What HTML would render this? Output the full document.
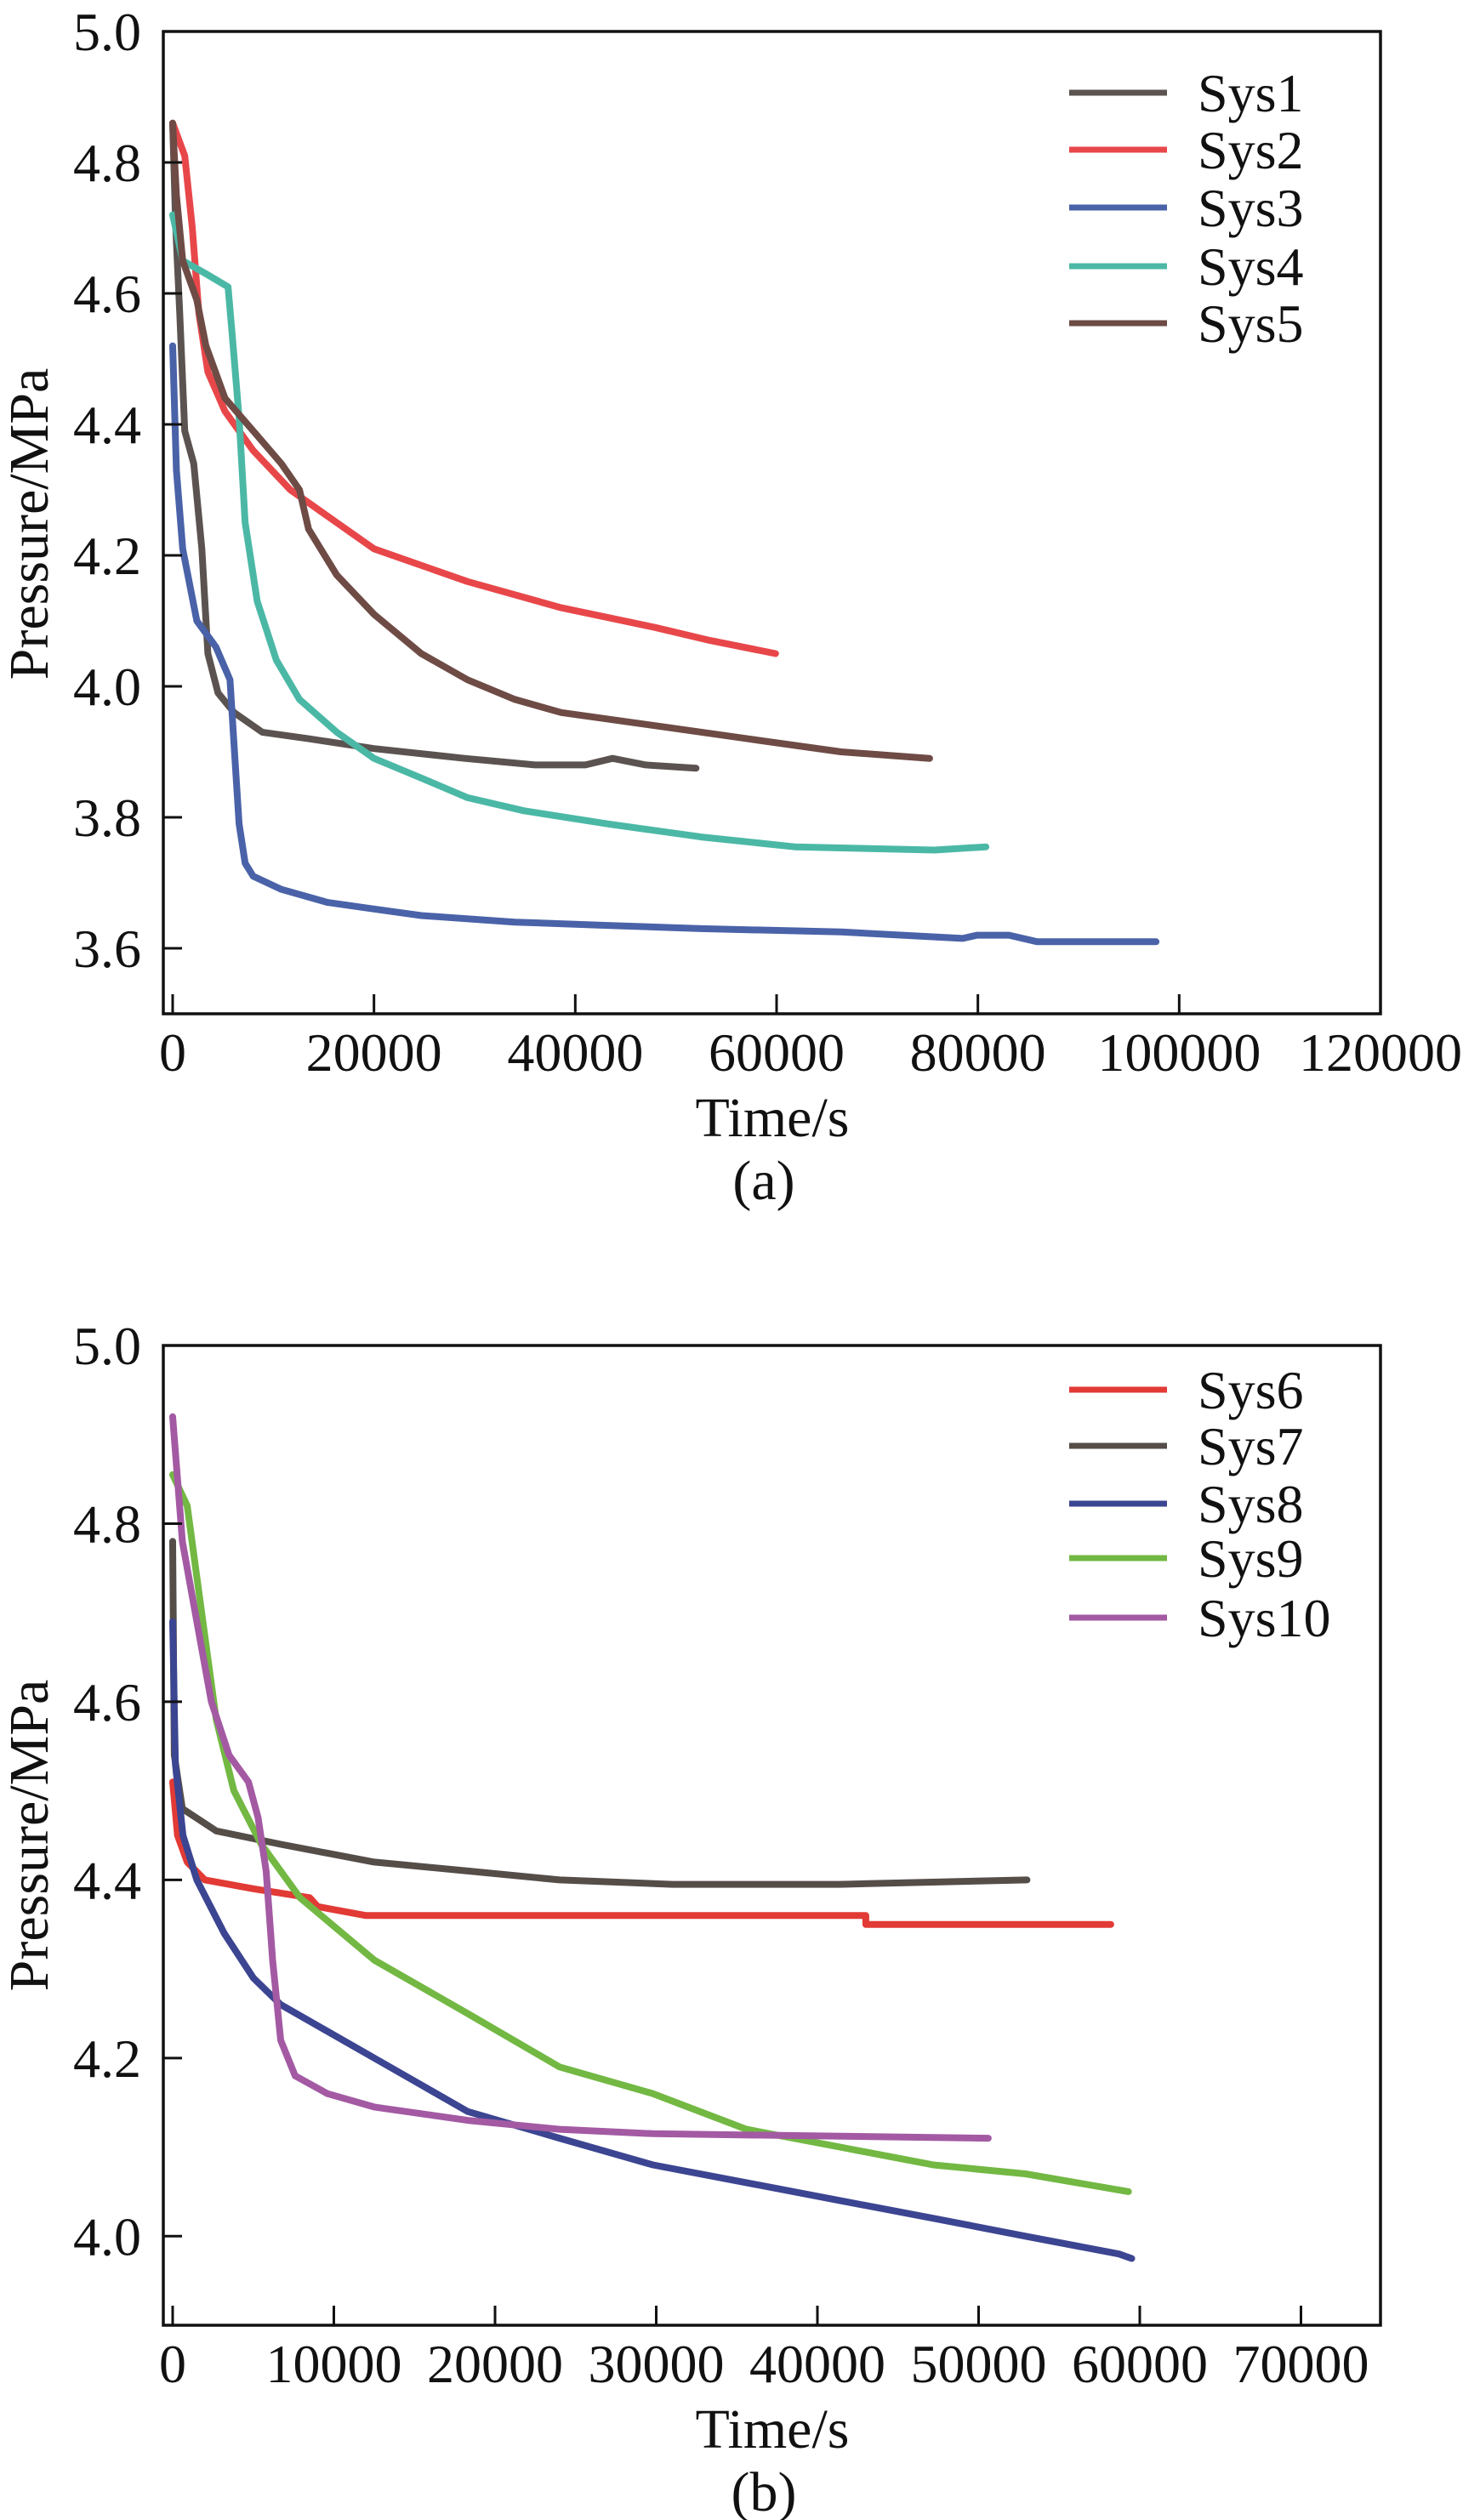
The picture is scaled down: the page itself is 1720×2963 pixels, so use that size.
<!DOCTYPE html>
<html><head><meta charset="utf-8"><style>
html,body{margin:0;padding:0;background:#fff;}
svg{display:block;font-family:"Liberation Serif","Times New Roman",serif;}
</style></head>
<body>
<svg id="fig" width="1720" height="2963" viewBox="0 0 1720 2963" xmlns="http://www.w3.org/2000/svg"></svg>
<script>
// ---------- Chart (a) data ----------
const aXTicks = [0, 20000, 40000, 60000, 80000, 100000, 120000];
const aYTicks = [3.6, 3.8, 4.0, 4.2, 4.4, 4.6, 4.8, 5.0];
const aNames = ["Sys1", "Sys2", "Sys3", "Sys4", "Sys5"];
const sys1T = [0,300,700,1200,2100,2900,3500,4500,6100,8900,13500,20000,29000,36000,41000,43700,47000,52000];
const sys1P = [4.86,4.70,4.57,4.39,4.34,4.21,4.05,3.99,3.96,3.93,3.92,3.905,3.89,3.88,3.88,3.89,3.88,3.875];
const sys2T = [0,1200,1950,2600,3500,5200,8000,11700,16300,20000,29300,38600,47900,53400,59900];
const sys2P = [4.86,4.81,4.70,4.57,4.48,4.42,4.36,4.30,4.25,4.21,4.16,4.12,4.09,4.07,4.05];
const sys3T = [0,370,1000,2400,4300,5700,6100,6600,7200,8000,10800,15400,20000,24700,34000,43200,52500,66400,78500,79900,83100,85900,97700];
const sys3P = [4.52,4.33,4.21,4.10,4.06,4.01,3.91,3.79,3.73,3.71,3.69,3.67,3.66,3.65,3.64,3.635,3.63,3.625,3.615,3.62,3.62,3.61,3.61];
const sys4T = [0,1000,3300,5500,5900,6600,7200,8400,10300,12600,16300,20000,24700,29300,34900,43200,52500,61800,75700,80800];
const sys4P = [4.72,4.65,4.63,4.61,4.54,4.41,4.25,4.13,4.04,3.98,3.93,3.89,3.86,3.83,3.81,3.79,3.77,3.755,3.75,3.755];
const sys5T = [0,370,1000,2400,3300,5200,8000,10800,12600,13500,16300,20000,24700,29300,34000,38600,47900,57100,66400,75200];
const sys5P = [4.86,4.75,4.65,4.59,4.52,4.44,4.39,4.34,4.30,4.24,4.17,4.11,4.05,4.01,3.98,3.96,3.94,3.92,3.90,3.89];

// ---------- Chart (b) data ----------
const bXTicks = [0, 10000, 20000, 30000, 40000, 50000, 60000, 70000];
const bYTicks = [4.0, 4.2, 4.4, 4.6, 4.8, 5.0];
const bNames = ["Sys6", "Sys7", "Sys8", "Sys9", "Sys10"];
const sys6T = [0,300,900,2000,5000,8500,9000,12000,43000,43000,58200];
const sys6P = [4.51,4.45,4.42,4.40,4.39,4.38,4.37,4.36,4.36,4.35,4.35];
const sys7T = [0,100,600,2700,6700,12500,18300,24000,31000,41400,53000];
const sys7P = [4.78,4.54,4.48,4.455,4.44,4.42,4.41,4.40,4.395,4.395,4.40];
const sys8T = [0,170,640,1500,3200,5000,6700,9600,12500,15400,18300,24000,29800,35600,41400,47200,52900,58700,59500];
const sys8P = [4.69,4.53,4.45,4.40,4.34,4.29,4.26,4.23,4.20,4.17,4.14,4.11,4.08,4.06,4.04,4.02,4.00,3.98,3.975];
const sys9T = [0,900,1800,2700,3800,5500,7900,12500,18300,24000,29800,35600,41400,47200,52900,59300];
const sys9P = [4.855,4.82,4.70,4.58,4.50,4.44,4.38,4.31,4.25,4.19,4.16,4.12,4.10,4.08,4.07,4.05];
const sys10T = [0,600,1500,2400,3500,4700,5300,5800,6200,6700,7600,9600,12500,18300,24000,29800,50600];
const sys10P = [4.92,4.78,4.69,4.60,4.54,4.51,4.47,4.41,4.31,4.22,4.18,4.16,4.145,4.13,4.12,4.115,4.11];

const NS = "http://www.w3.org/2000/svg";
const svg = document.getElementById("fig");
function mk(tag, attrs, parent) {
  const e = document.createElementNS(NS, tag);
  for (const k in attrs) e.setAttribute(k, attrs[k]);
  (parent || svg).appendChild(e);
  return e;
}

function drawChart(cfg) {
  const g = mk("g", {});
  
  
  const L = 192, R = 1623, T = cfg.top, B = cfg.bottom;
  const xs = v => cfg.x0 + v * cfg.xPer;
  const ys = v => B - (v - cfg.yMin) / (cfg.yMax - cfg.yMin) * (B - T);

  cfg.series.forEach((s, i) => {
    let d = "";
    s.t.forEach((t, j) => { d += (j ? "L" : "M") + xs(t).toFixed(1) + "," + ys(s.p[j]).toFixed(1); });
    const path = mk("path", {d: d, fill: "none", stroke: s.color, "stroke-width": 8, "stroke-linejoin": "round", "stroke-linecap": "round"}, g);
    
    
  });

  const frame = mk("rect", {x: L, y: T, width: R - L, height: B - T, fill: "none", stroke: "#111", "stroke-width": 3.5}, g);
  
  

  cfg.xTicks.forEach(v => {
    const x = xs(v);
    const tk = mk("line", {x1: x, x2: x, y1: B, y2: B - 23, stroke: "#111", "stroke-width": 3}, g);
    
    
    const tl = mk("text", {x: x, y: B + 67, "text-anchor": "middle", "font-size": 64, fill: "#111"}, g);
    tl.textContent = String(v);
    
    
  });
  cfg.yTicks.forEach(v => {
    const y = ys(v);
    const tk = mk("line", {x1: L, x2: L + 22, y1: y, y2: y, stroke: "#111", "stroke-width": 3}, g);
    
    
    const tl = mk("text", {x: 166, y: y + 22, "text-anchor": "end", "font-size": 64, fill: "#111"}, g);
    tl.textContent = v.toFixed(1);
    
    
  });

  const xt = mk("text", {x: 908, y: B + 144, "text-anchor": "middle", "font-size": 66, fill: "#111"}, g);
  xt.textContent = "Time/s";
  
  
  const yt = mk("text", {x: 0, y: 0, "text-anchor": "middle", "font-size": 66, fill: "#111", transform: "translate(56," + cfg.yTitleY + ") rotate(-90)"}, g);
  yt.textContent = "Pressure/MPa";
  
  
  const cap = mk("text", {x: 898, y: B + 218, "text-anchor": "middle", "font-size": 66, fill: "#111"}, g);
  cap.textContent = cfg.caption;
  
  

  cfg.series.forEach((s, i) => {
    const y = cfg.legendY[i];
    const ln = mk("line", {x1: 1257, x2: 1372, y1: y, y2: y, stroke: s.color, "stroke-width": 7}, g);
    
    
    const lt = mk("text", {x: 1408, y: y + 22, "font-size": 64, fill: "#111"}, g);
    lt.textContent = s.name;
    
    
  });
}

drawChart({
  name: "chart-a", top: 37, bottom: 1192, yMin: 3.5, yMax: 5.0,
  x0: 203, xPer: (1623 - 203) / 120000,
  xTicks: aXTicks, yTicks: aYTicks, caption: "(a)", yTitleY: 616,
  legendY: [109, 176, 244, 313, 380],
  series: [
    {name: aNames[0], t: sys1T, p: sys1P, color: "#5b5350"},
    {name: aNames[1], t: sys2T, p: sys2P, color: "#e8474a"},
    {name: aNames[2], t: sys3T, p: sys3P, color: "#4a62a8"},
    {name: aNames[3], t: sys4T, p: sys4P, color: "#4bb8a6"},
    {name: aNames[4], t: sys5T, p: sys5P, color: "#6e4b45"}
  ]
});
drawChart({
  name: "chart-b", top: 1582, bottom: 2734, yMin: 3.9, yMax: 5.0,
  x0: 203, xPer: 189.5 / 10000,
  xTicks: bXTicks, yTicks: bYTicks, caption: "(b)", yTitleY: 2158,
  legendY: [1634, 1700, 1768, 1832, 1902],
  series: [
    {name: bNames[0], t: sys6T, p: sys6P, color: "#e23a35"},
    {name: bNames[1], t: sys7T, p: sys7P, color: "#554d48"},
    {name: bNames[2], t: sys8T, p: sys8P, color: "#3c4591"},
    {name: bNames[3], t: sys9T, p: sys9P, color: "#72b843"},
    {name: bNames[4], t: sys10T, p: sys10P, color: "#a35aa3"}
  ]
});
</script>
</body></html>
